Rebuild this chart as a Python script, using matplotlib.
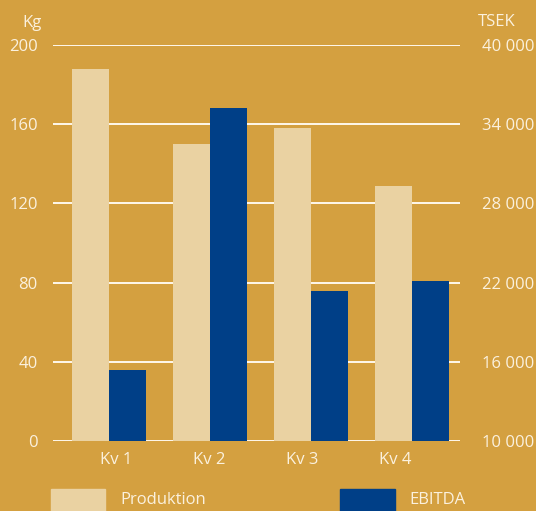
import matplotlib.pyplot as plt
import numpy as np

# ---------- data ----------
quarters = ["Kv 1", "Kv 2", "Kv 3", "Kv 4"]
produktion_kg = [188, 150, 158, 129]
ebitda_tsek = [15400, 35200, 21400, 22100]
kg_ticks = [0, 40, 80, 120, 160, 200]
tsek_ticks = [10000, 16000, 22000, 28000, 34000, 40000]

# ---------- style ----------
BG = "#D4A040"
LIGHT = "#EAD2A2"
BLUE = "#003F87"
TXT = "#FBF1DE"
plt.rcParams["font.family"] = ["Open Sans", "DejaVu Sans"]
plt.rcParams["font.size"] = 12

W, H = 536, 511
fig = plt.figure(figsize=(W / 100, H / 100), dpi=100, facecolor=BG)
ax = fig.add_axes([53 / W, (H - 441) / H, (460 - 53) / W, (441 - 45) / H])
ax.set_facecolor(BG)
ax2 = ax.twinx()
ax2.patch.set_visible(False)  # keep ax gridlines visible behind the blue bars

x = np.arange(len(quarters))
bw = 0.366
ax.bar(x - bw / 2, produktion_kg, width=bw, color=LIGHT, zorder=3)
ax2.bar(x + bw / 2, ebitda_tsek, width=bw, color=BLUE, zorder=3)

ax.set_xlim(-0.554, 3.475)
ax.set_ylim(0, 200)
ax2.set_ylim(10000, 40000)
ax.set_yticks(kg_ticks)
ax2.set_yticks(tsek_ticks)
ax2.set_yticklabels([f"{t:,}".replace(",", " ") for t in tsek_ticks])

for t in kg_ticks:
    ax.axhline(t, color="#FFF8EC", lw=1.4, zorder=1)

# category labels (shifted slightly as in the source)
ax.set_xticks(x * 0.92 + 0.07)
ax.set_xticklabels(quarters)

for a in (ax, ax2):
    for s in a.spines.values():
        s.set_visible(False)
    a.tick_params(length=0, colors=TXT, labelsize=12)
ax.tick_params(axis="y", pad=11)
ax2.tick_params(axis="y", pad=16)
ax.tick_params(axis="x", pad=8)

fig.text(42 / W, 1 - 23 / H, "Kg", color=TXT, ha="right", va="center", fontsize=12)
fig.text(478 / W, 1 - 22 / H, "TSEK", color=TXT, ha="left", va="center", fontsize=12)

# legend
fig.patches.append(plt.Rectangle((51 / W, 0), 54 / W, 22 / H, transform=fig.transFigure,
                                 color=LIGHT, figure=fig))
fig.patches.append(plt.Rectangle((340 / W, 0), 55 / W, 22 / H, transform=fig.transFigure,
                                 color=BLUE, figure=fig))
fig.text(120 / W, 1 - 500 / H, "Produktion", color=TXT, va="center", fontsize=12)
fig.text(409 / W, 1 - 500 / H, "EBITDA", color=TXT, va="center", fontsize=12)

fig.savefig("out.png", dpi=100, facecolor=BG)
